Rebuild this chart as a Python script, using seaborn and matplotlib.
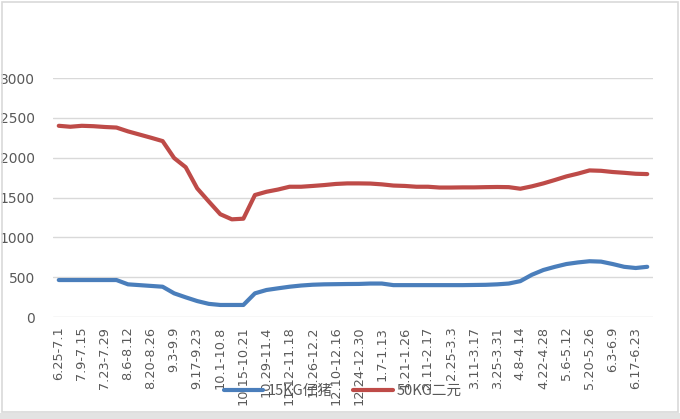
import numpy as np
import pandas as pd
import matplotlib
matplotlib.use("Agg")
import matplotlib.pyplot as plt
import seaborn as sns
from matplotlib.patches import Rectangle

# ---- data ----
weeks = [
    "6.25-7.1", "7.2-7.8", "7.9-7.15", "7.16-7.22", "7.23-7.29", "7.30-8.5",
    "8.6-8.12", "8.13-8.19", "8.20-8.26", "8.27-9.2", "9.3-9.9", "9.10-9.16",
    "9.17-9.23", "9.24-9.30", "10.1-10.8", "10.9-10.14", "10.15-10.21", "10.22-10.28",
    "10.29-11.4", "11.5-11.11", "11.12-11.18", "11.19-11.25", "11.26-12.2", "12.3-12.9",
    "12.10-12.16", "12.17-12.23", "12.24-12.30", "12.31-1.6", "1.7-1.13", "1.14-1.20",
    "1.21-1.26", "1.27-2.10", "2.11-2.17", "2.18-2.24", "2.25-3.3", "3.4-3.10",
    "3.11-3.17", "3.18-3.24", "3.25-3.31", "4.1-4.7", "4.8-4.14", "4.15-4.21",
    "4.22-4.28", "4.29-5.5", "5.6-5.12", "5.13-5.19", "5.20-5.26", "5.27-6.2",
    "6.3-6.9", "6.10-6.16", "6.17-6.23", "6.24-6.30",
]
piglet_15kg = [
    464, 464, 464, 464, 464, 464, 410, 400, 390, 380, 297, 247,
    200, 165, 151, 151, 151, 297, 339, 360, 380, 395, 405, 410,
    412, 414, 415, 420, 420, 400, 400, 400, 400, 400, 400, 400,
    402, 404, 410, 420, 450, 530, 590, 630, 665, 685, 700, 695,
    665, 630, 615, 630,
]
hog_50kg = [
    2400, 2388, 2400, 2395, 2385, 2378, 2330, 2290, 2250, 2208, 1995, 1880,
    1614, 1450, 1290, 1226, 1234, 1531, 1572, 1600, 1635, 1635, 1645, 1656,
    1670, 1677, 1677, 1675, 1665, 1650, 1645, 1635, 1635, 1625, 1625, 1627,
    1627, 1630, 1632, 1630, 1610, 1640, 1677, 1720, 1765, 1800, 1840, 1835,
    1820, 1810, 1798, 1794,
]
series_names = ["15KG仔猪", "50KG二元"]
series_colors = ["#4A7EBB", "#BE4B48"]
y_ticks = [0, 500, 1000, 1500, 2000, 2500, 3000]

df = pd.concat([
    pd.DataFrame({"idx": np.arange(len(weeks)), "value": piglet_15kg, "series": series_names[0]}),
    pd.DataFrame({"idx": np.arange(len(weeks)), "value": hog_50kg, "series": series_names[1]}),
])

sns.set_theme(style="white")
plt.rcParams["font.family"] = ["DejaVu Sans", "Noto Sans CJK SC"]

fig = plt.figure(figsize=(6.8, 4.19), dpi=100)
ax = fig.add_axes([53 / 680, 1 - 317 / 419, 600 / 680, (317 - 78) / 419])

sns.lineplot(data=df, x="idx", y="value", hue="series",
             palette=dict(zip(series_names, series_colors)),
             linewidth=3.0, sort=False, ax=ax, legend=False)

ax.set_xlim(-0.5, len(weeks) - 0.5)
ax.set_ylim(0, 3000)
ax.set_yticks(y_ticks)
ax.set_yticklabels([str(v) for v in y_ticks], fontsize=10, color="#595959")
ax.set_xticks(np.arange(0, len(weeks), 2))
ax.set_xticklabels(weeks[::2], rotation=90, fontsize=9.3, color="#595959")
ax.tick_params(axis="y", length=0, pad=13)
ax.tick_params(axis="x", length=0, pad=7)
ax.set_xlabel("")
ax.set_ylabel("")
for s in ax.spines.values():
    s.set_visible(False)
ax.grid(axis="y", color="#D9D9D9", linewidth=1.0)
ax.grid(axis="x", visible=False)
ax.set_axisbelow(True)

# legend
from matplotlib.lines import Line2D
handles = [Line2D([0], [0], color=c, lw=3.0) for c in series_colors]
leg = fig.legend(handles, series_names, loc="center", ncol=2,
                 bbox_to_anchor=(343 / 680, 1 - 391 / 419), frameon=False,
                 handlelength=2.7, handletextpad=0.3, columnspacing=1.4,
                 prop={"family": ["Noto Sans CJK SC", "DejaVu Sans"], "size": 10.5})
for t in leg.get_texts():
    t.set_color("#595959")

# outer chart frame
fig.patches.append(Rectangle((1.5 / 680, 1 - 412 / 419), 676 / 680, 410 / 419,
                             transform=fig.transFigure, fill=False,
                             edgecolor="#D9D9D9", linewidth=1.2))
fig.patches.append(Rectangle((0, 0), 1, 6 / 419, transform=fig.transFigure,
                             facecolor="#E3E3E3", edgecolor="none"))

fig.savefig("out.png", dpi=100)
